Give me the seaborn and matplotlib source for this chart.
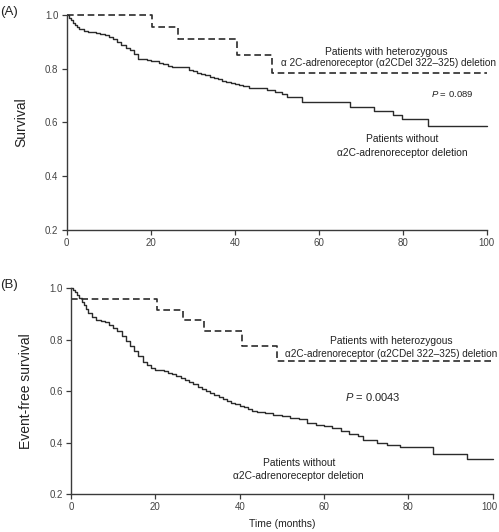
import numpy as np
import pandas as pd
import matplotlib
matplotlib.use("Agg")
import matplotlib.pyplot as plt
import matplotlib.transforms as mtransforms
import seaborn as sns

# ---------------- data ----------------
# Panel A: overall survival
a_del_time = [0, 20.2, 26.5, 40.5, 48.8, 100]
a_del_surv = [1.0, 0.955, 0.909, 0.852, 0.786, 0.786]

a_no_time = [0, 0.5, 1, 1.5, 2, 2.5, 3,
             4, 5, 6, 7, 8, 9, 10, 11, 12, 13, 14, 15, 16, 17, 18, 19, 20, 21, 22, 23, 24, 25,
             27, 28, 29, 30, 31, 32, 33, 34, 35, 36, 37, 38, 39, 40, 41, 42,
             43.5, 47.6, 49.5, 51.2, 52.4, 56, 67.5, 73.2, 77.7, 79.8, 86.1, 100]
a_no_surv = [1.0, 0.99, 0.982, 0.972, 0.962, 0.955, 0.948,
             0.942, 0.937, 0.935, 0.933, 0.93, 0.926, 0.92, 0.912, 0.9, 0.888, 0.878, 0.868,
             0.855, 0.838, 0.835, 0.832, 0.83, 0.828, 0.823, 0.817, 0.81, 0.808,
             0.806, 0.805, 0.797, 0.79, 0.786, 0.782, 0.776, 0.771, 0.766, 0.761, 0.756,
             0.752, 0.748, 0.745, 0.74, 0.735,
             0.728, 0.72, 0.714, 0.706, 0.695, 0.678, 0.657, 0.643, 0.628, 0.613, 0.588, 0.588]

# Panel B: event-free survival
b_del_time = [0, 20.3, 26.6, 31.6, 40.6, 48.8, 100]
b_del_surv = [0.958, 0.917, 0.875, 0.833, 0.776, 0.718, 0.718]

b_no_time = [0, 0.5, 1, 1.5, 2, 2.5, 3, 3.5,
             4, 5, 6, 7, 8, 9, 10, 11, 12, 13, 14, 15, 16, 17, 18, 19, 20, 21, 22, 23, 24,
             25, 26, 27, 28, 29, 30, 31, 32, 33, 34, 35, 36, 37, 38, 39, 40, 41, 42, 43, 44,
             46, 48, 50, 52, 54, 56, 58, 60, 62, 64, 66, 68,
             69.3, 72.5, 74.9, 78, 85.8, 94, 100]
b_no_surv = [1.0, 0.995, 0.985, 0.975, 0.962, 0.948, 0.935, 0.92,
             0.905, 0.89, 0.878, 0.874, 0.868, 0.858, 0.846, 0.832, 0.815, 0.795, 0.775,
             0.755, 0.735, 0.715, 0.7, 0.69, 0.684, 0.682, 0.678, 0.672, 0.665,
             0.659, 0.652, 0.645, 0.636, 0.626, 0.617, 0.608, 0.6, 0.592, 0.584, 0.576,
             0.568, 0.562, 0.555, 0.549, 0.543, 0.537, 0.53, 0.524, 0.52,
             0.515, 0.508, 0.503, 0.497, 0.49, 0.478, 0.47, 0.464, 0.455, 0.446, 0.435, 0.425,
             0.41, 0.4, 0.39, 0.382, 0.356, 0.335, 0.335]

x_ticks = [0, 20, 40, 60, 80, 100]
y_ticks = [0.2, 0.4, 0.6, 0.8, 1.0]
y_ticklabels = ["0.2", "0.4", "0.6", "0.8", "1.0"]

# ---------------- style ----------------
sns.set_style("ticks")
plt.rcParams["font.family"] = ["Liberation Sans", "DejaVu Sans"]
plt.rcParams["mathtext.fontset"] = "custom"
plt.rcParams["mathtext.it"] = "Liberation Sans:italic"
plt.rcParams["mathtext.rm"] = "Liberation Sans"

LINE = "#2b2b2b"
TXT = "#222222"
AX = "#3a3a3a"

fig = plt.figure(figsize=(4.99, 5.32), dpi=100)
axA = fig.add_axes([0.1337, 0.5677, 0.8417, 0.4041])
axB = fig.add_axes([0.1423, 0.0714, 0.8451, 0.3867])


def draw(ax, t_no, s_no, t_del, s_del):
    d_no = pd.DataFrame({"time": t_no, "surv": s_no})
    d_del = pd.DataFrame({"time": t_del, "surv": s_del})
    sns.lineplot(data=d_no, x="time", y="surv", ax=ax, estimator=None, sort=False,
                 drawstyle="steps-post", color=LINE, linewidth=1.0, clip_on=False)
    sns.lineplot(data=d_del, x="time", y="surv", ax=ax, estimator=None, sort=False,
                 drawstyle="steps-post", color=LINE, linewidth=1.2,
                 linestyle=(0, (4, 2.2)), clip_on=False)
    ax.set_xlim(0, 100)
    ax.set_ylim(0.2, 1.0)
    ax.set_xticks(x_ticks)
    ax.set_xticklabels([str(v) for v in x_ticks])
    ax.set_yticks(y_ticks)
    ax.set_yticklabels(y_ticklabels)
    ax.tick_params(axis="both", labelsize=7, colors=AX, length=3.5, width=0.9,
                   direction="out", pad=2.5)
    for lab in ax.get_xticklabels() + ax.get_yticklabels():
        lab.set_color("#444444")
    for s in ["left", "bottom"]:
        ax.spines[s].set_color(AX)
        ax.spines[s].set_linewidth(1.0)
    sns.despine(ax=ax)
    ax.set_xlabel("")


draw(axA, a_no_time, a_no_surv, a_del_time, a_del_surv)
draw(axB, b_no_time, b_no_surv, b_del_time, b_del_surv)

# nudge the last x tick label of panel B so it stays inside the figure
lastB = axB.get_xticklabels()[-1]
lastB.set_transform(lastB.get_transform() +
                    mtransforms.ScaledTranslation(-3 / 100, 0, fig.dpi_scale_trans))

axA.set_ylabel("Survival", fontsize=10, color=TXT, labelpad=12)
axB.set_ylabel("Event-free survival", fontsize=10, color=TXT, labelpad=12)
axB.set_xlabel("Time (months)", fontsize=7.5, color=TXT, labelpad=5)

fs = 7.4
# Panel A annotations
axA.text(76.2, 0.863, "Patients with heterozygous", ha="center", va="center",
         fontsize=fs, color=TXT)
axA.text(76.6, 0.820, "\u03b1 2C-adrenoreceptor (\u03b12CDel 322\u2013325) deletion",
         ha="center", va="center", fontsize=7.2, color=TXT, clip_on=False)
axA.text(91.7, 0.705, r"$\mathit{P}$ = 0.089", ha="center", va="center",
         fontsize=6.8, color=TXT)
axA.text(79.8, 0.537, "Patients without", ha="center", va="center", fontsize=fs, color=TXT)
axA.text(79.8, 0.488, "\u03b12C-adrenoreceptor deletion", ha="center", va="center",
         fontsize=fs, color=TXT)

# Panel B annotations
axB.text(76.0, 0.795, "Patients with heterozygous", ha="center", va="center",
         fontsize=fs, color=TXT)
axB.text(75.8, 0.743, "\u03b12C-adrenoreceptor (\u03b12CDel 322\u2013325) deletion",
         ha="center", va="center", fontsize=7.2, color=TXT, clip_on=False)
axB.text(71.5, 0.578, r"$\mathit{P}$ = 0.0043", ha="center", va="center",
         fontsize=8, color=TXT)
axB.text(54.0, 0.319, "Patients without", ha="center", va="center", fontsize=fs, color=TXT)
axB.text(54.0, 0.270, "\u03b12C-adrenoreceptor deletion", ha="center", va="center",
         fontsize=fs, color=TXT)

fig.text(0.0, 1 - 12 / 532, "(A)", ha="left", va="center", fontsize=9.5, color=TXT)
fig.text(0.0, 1 - 285 / 532, "(B)", ha="left", va="center", fontsize=9.5, color=TXT)

fig.savefig("out.png", dpi=100)
